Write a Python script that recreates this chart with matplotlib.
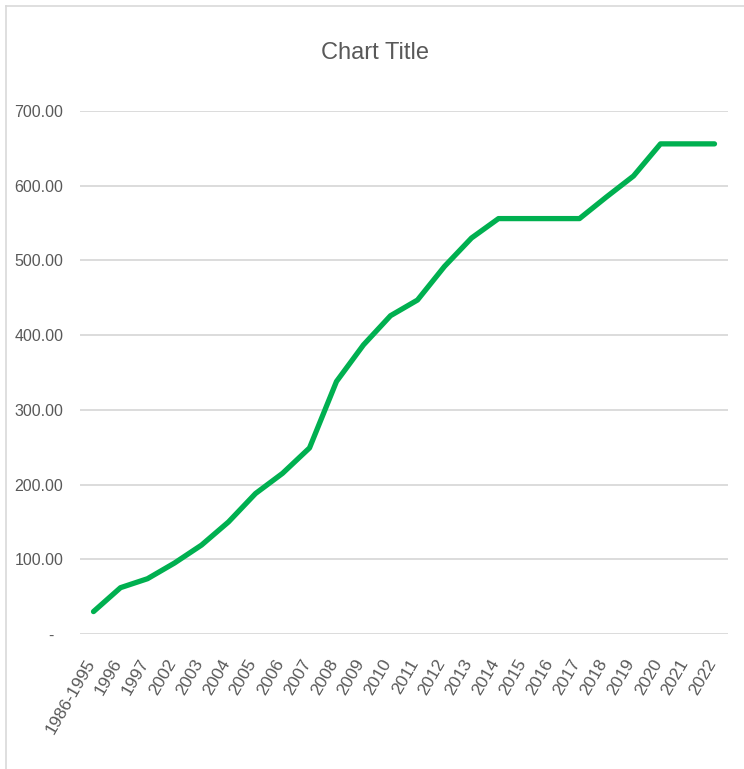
import matplotlib
matplotlib.use("Agg")
import matplotlib.pyplot as plt
from matplotlib.lines import Line2D
from matplotlib.ticker import FixedLocator, FuncFormatter
from matplotlib.transforms import ScaledTranslation

# dane
years = ['1986-1995', '1996', '1997', '2002', '2003', '2004', '2005', '2006',
         '2007', '2008', '2009', '2010', '2011', '2012', '2013', '2014',
         '2015', '2016', '2017', '2018', '2019', '2020', '2021', '2022']
values = [30, 62, 74, 95, 119, 150, 188, 215, 249, 338, 387, 426, 447,
          492, 530, 556, 556, 556, 556, 585, 613, 656, 656, 656]
y_ticks = [0, 100, 200, 300, 400, 500, 600, 700]

plt.rcParams['font.family'] = ['Liberation Sans', 'DejaVu Sans']
grey = '#595959'

W, H = 744, 769
fig = plt.figure(figsize=(W / 100, H / 100), dpi=100)
ax = fig.add_axes([80 / W, 1 - 634 / H, (728 - 80) / W, (634 - 111) / H])

x = list(range(len(years)))
ax.plot(x, values, color='#00b050', linewidth=3.8, solid_capstyle='round',
        solid_joinstyle='round', zorder=3)

ax.set_xlim(-0.5, len(years) - 0.5)
ax.set_ylim(0, 700)
ax.yaxis.set_major_locator(FixedLocator(y_ticks))
ax.yaxis.set_major_formatter(FuncFormatter(lambda v, p: '-  ' if v == 0 else f'{v:.2f}'))
ax.grid(axis='y', color='#d9d9d9', linewidth=1.3)
ax.set_axisbelow(True)
for s in ax.spines.values():
    s.set_visible(False)

ax.set_xticks(x)
ax.set_xticklabels(years, rotation=60, ha='right', va='top')
ax.tick_params(axis='x', length=0, pad=16, labelsize=12.5, labelcolor=grey)
ax.tick_params(axis='y', length=0, pad=12, labelsize=11.5, labelcolor=grey)
# etykiety osi X lekko w prawo, jak w Excelu
shift = ScaledTranslation(4 / 100, 0, fig.dpi_scale_trans)
for lab in ax.get_xticklabels():
    lab.set_transform(lab.get_transform() + shift)

fig.text(375 / W, 1 - 53 / H, 'Chart Title', ha='center', va='center',
         fontsize=17, color=grey)

# ramka wykresu (widoczna tylko z lewej i u góry)
fig.add_artist(Line2D([6.5 / W, 1], [1 - 5.5 / H] * 2, color='#d9d9d9', linewidth=1.2,
                      transform=fig.transFigure))
fig.add_artist(Line2D([6.5 / W] * 2, [0, 1 - 5.5 / H], color='#d9d9d9', linewidth=1.2,
                      transform=fig.transFigure))

fig.savefig('out.png', dpi=100, facecolor='white')
